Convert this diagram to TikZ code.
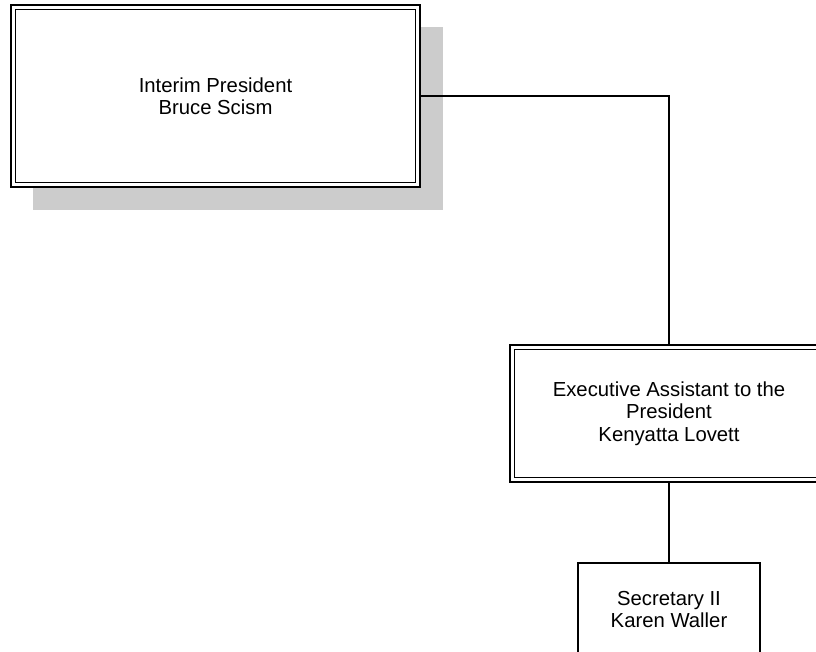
\documentclass[tikz,border=0pt]{standalone}
\usepackage{fontspec}
\setmainfont{Liberation Sans}
\begin{document}
\begin{tikzpicture}[x=1pt,y=-1pt,
  box/.style={draw=black, fill=white, line width=1.6pt, align=center, inner sep=0pt,
    font=\fontsize{20.3}{22.5}\selectfont},
  inner/.style={draw=black, line width=1pt},
  link/.style={draw=black, line width=1.3pt},
  shadow/.style={fill=black!20, draw=none}]
\useasboundingbox (0,0) rectangle (816,651);
% shadow of top box
\fill[black!20] (33,27) rectangle (443,210);
\node[box, minimum width=409pt, minimum height=182pt] (pres) at (215.5,96) {Interim President\\Bruce Scism};
\draw[inner] ([xshift=5.5pt,yshift=-5.5pt]pres.north west) rectangle ([xshift=-5.5pt,yshift=5.5pt]pres.south east);
\node[box, minimum width=318pt, minimum height=137pt] (exec) at (669,413.5) {Executive Assistant to the\\President\\Kenyatta Lovett};
\draw[inner] ([xshift=5.5pt,yshift=-5.5pt]exec.north west) rectangle ([xshift=-5.5pt,yshift=5.5pt]exec.south east);
\node[box, line width=1.3pt, minimum width=182pt, minimum height=93pt] (sec) at (669,609.5) {Secretary II\\Karen Waller};
\draw[link] (pres.east) -| (exec.north);
\draw[link] (exec.south) -- (sec.north);
\end{tikzpicture}
\end{document}
